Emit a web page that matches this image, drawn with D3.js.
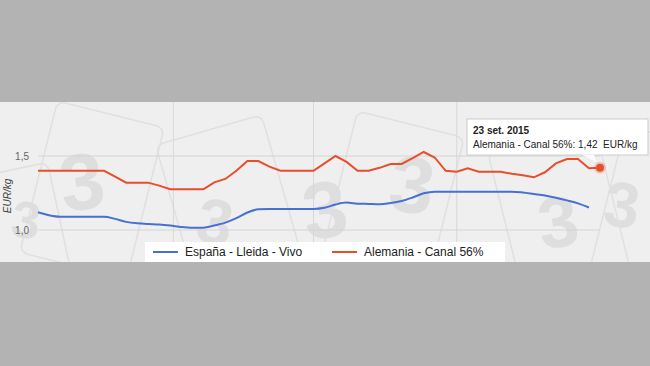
<!DOCTYPE html>
<html><head><meta charset="utf-8">
<script src="https://cdn.jsdelivr.net/npm/d3@7"></script>
<style>html,body{margin:0;padding:0;background:#b3b3b3;} svg{display:block;font-family:"Liberation Sans",Arial,sans-serif;}</style>
</head><body><svg id="c" width="650" height="366"></svg>
<script>
const dates = ["2014-10-01","2014-10-08","2014-10-15","2014-10-22","2014-10-29","2014-11-05","2014-11-12","2014-11-19","2014-11-26",
"2014-12-03","2014-12-10","2014-12-17","2014-12-24","2014-12-31","2015-01-07","2015-01-14","2015-01-21","2015-01-28",
"2015-02-04","2015-02-11","2015-02-18","2015-02-25","2015-03-04","2015-03-11","2015-03-18","2015-03-25","2015-04-01",
"2015-04-08","2015-04-15","2015-04-22","2015-04-29","2015-05-06","2015-05-13","2015-05-20","2015-05-27","2015-06-03",
"2015-06-10","2015-06-17","2015-06-24","2015-07-01","2015-07-08","2015-07-15","2015-07-22","2015-07-29","2015-08-05",
"2015-08-12","2015-08-19","2015-08-26","2015-09-02","2015-09-09","2015-09-16","2015-09-23"];
const espana = [1.12,1.10,1.09,1.09,1.09,1.09,1.09,1.075,1.055,1.045,1.04,1.037,1.03,1.02,1.015,1.015,1.03,1.05,1.08,1.118,
1.14,1.142,1.142,1.142,1.142,1.142,1.15,1.172,1.185,1.178,1.176,1.174,1.182,1.196,1.22,1.248,1.259,1.259,1.259,1.259,
1.259,1.259,1.259,1.259,1.253,1.243,1.233,1.218,1.20,1.18,1.152];
const alemania = [1.40,1.40,1.40,1.40,1.40,1.40,1.40,1.36,1.32,1.32,1.32,1.30,1.275,1.275,1.275,1.275,1.322,1.345,1.40,1.466,
1.466,1.428,1.40,1.40,1.40,1.40,1.45,1.50,1.46,1.40,1.40,1.42,1.446,1.446,1.485,1.527,1.49,1.40,1.394,1.417,
1.394,1.394,1.394,1.38,1.37,1.356,1.39,1.45,1.48,1.48,1.417,1.42];
const yTicks = [1.0, 1.5];
const yTickLabels = ["1,0", "1,5"];
const gridDates = ["2014-12-26","2015-03-25","2015-06-24"];
const seriesNames = ["España - Lleida - Vivo", "Alemania - Canal 56%"];
const yTitle = "EUR/kg";
const tooltipTitle = "23 set. 2015";
const tooltipText = "Alemania - Canal 56%: 1,42  EUR/kg";

const BLUE = "#4670d2", RED = "#e84e2b";
const svg = d3.select("#c");
const parse = d3.timeParse("%Y-%m-%d");
const D = dates.map(parse);
const x = d3.scaleTime().domain([D[0], D[D.length-1]]).range([38, 600]);
const y = d3.scaleLinear().domain([1.0, 1.5]).range([230, 156]);
const bandTop = 102, bandBot = 262;

svg.append("rect").attr("width",650).attr("height",366).attr("fill","#b3b3b3");
svg.append("rect").attr("x",0).attr("y",bandTop).attr("width",650).attr("height",bandBot-bandTop).attr("fill","#efefef");

// watermark
const wm = svg.append("g");
const cards = [[92,190,14],[230,205,-16],[392,200,14],[560,215,-14],[660,215,14],[10,250,-12]];
cards.forEach(c=>{
  wm.append("rect").attr("x",-55).attr("y",-78).attr("width",110).attr("height",156).attr("rx",8)
    .attr("fill","none").attr("stroke","#e0e0e0").attr("stroke-width",1.5)
    .attr("transform",`translate(${c[0]},${c[1]}) rotate(${c[2]})`);
});
const threes = [[82,182,-8,80],[215,222,10,64],[325,210,-8,80],[412,185,8,80],[558,222,-8,72],[622,205,8,64],[26,220,8,52]];
threes.forEach(t=>{
  wm.append("text").text("3").attr("text-anchor","middle").attr("dominant-baseline","central")
    .attr("font-size",t[3]).attr("font-weight","bold").attr("fill","#dedede")
    .attr("transform",`translate(${t[0]},${t[1]}) rotate(${t[2]})`);
});

// grid
svg.selectAll(".vg").data(gridDates.map(parse)).join("line")
  .attr("x1",d=>x(d)).attr("x2",d=>x(d)).attr("y1",bandTop).attr("y2",bandBot)
  .attr("stroke","#d8d8d8").attr("stroke-width",1);
svg.selectAll(".hg").data(yTicks).join("line")
  .attr("x1",38).attr("x2",600).attr("y1",d=>y(d)).attr("y2",d=>y(d))
  .attr("stroke","#d4d4d4").attr("stroke-width",1);
svg.selectAll(".yt").data(yTicks).join("text")
  .attr("x",29).attr("y",d=>y(d)).attr("dy","0.35em").attr("text-anchor","end")
  .attr("font-size",10).attr("fill","#666").text((d,i)=>yTickLabels[i]);
svg.append("text").attr("transform","translate(11,196) rotate(-90)").attr("text-anchor","middle")
  .attr("font-size",10).attr("font-style","italic").attr("fill","#444").text(yTitle);

// lines
const lineB = d3.line().x((d,i)=>x(D[i])).y(d=>y(d)).curve(d3.curveMonotoneX);
const lineR = d3.line().x((d,i)=>x(D[i])).y(d=>y(d));
svg.append("path").attr("d",lineB(espana)).attr("fill","none").attr("stroke",BLUE).attr("stroke-width",2);
svg.append("path").attr("d",lineR(alemania)).attr("fill","none").attr("stroke",RED).attr("stroke-width",2);
const li = alemania.length-1;
svg.append("circle").attr("cx",x(D[li])).attr("cy",y(alemania[li])).attr("r",6).attr("fill",RED).attr("opacity",0.25);
svg.append("circle").attr("cx",x(D[li])).attr("cy",y(alemania[li])).attr("r",4).attr("fill",RED);

// tooltip
const tt = svg.append("g");
tt.append("rect").attr("x",467).attr("y",119).attr("width",181).attr("height",36).attr("fill","#fff").attr("stroke","#ccc");
tt.append("path").attr("d",`M582,154.5 L${x(D[li])-4},${y(alemania[li])-6} L594,154.5 Z`).attr("fill","#fff");
tt.append("text").attr("x",473).attr("y",134).attr("font-size",10).attr("font-weight","bold").attr("fill","#222").text(tooltipTitle);
tt.append("text").attr("x",473).attr("y",148).attr("font-size",10).attr("fill","#222").style("white-space","pre").text(tooltipText);

// legend
const lg = svg.append("g");
lg.append("rect").attr("x",145).attr("y",242).attr("width",360).attr("height",30).attr("fill","#fff");
[[153,BLUE],[332,RED]].forEach((p,i)=>{
  lg.append("line").attr("x1",p[0]).attr("x2",p[0]+25).attr("y1",252).attr("y2",252).attr("stroke",p[1]).attr("stroke-width",2);
  lg.append("text").attr("x",p[0]+32).attr("y",256).attr("font-size",12).attr("fill","#222").text(seriesNames[i]);
});

svg.append("rect").attr("x",0).attr("y",bandBot).attr("width",650).attr("height",366-bandBot).attr("fill","#b3b3b3");
svg.append("rect").attr("x",0).attr("y",0).attr("width",650).attr("height",bandTop).attr("fill","#b3b3b3");
</script></body></html>
